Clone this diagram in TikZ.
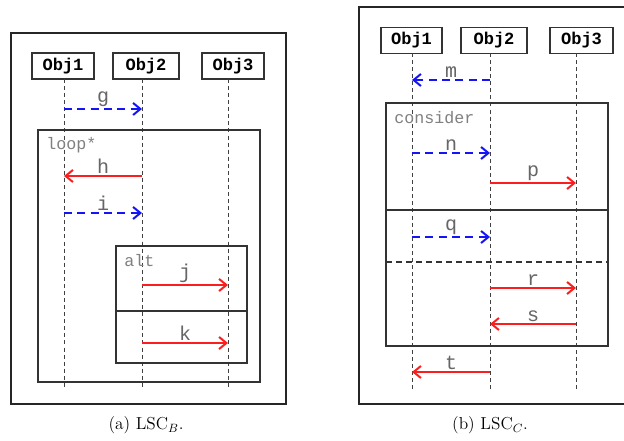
\documentclass[tikz,border=0pt]{standalone}
\usepackage{fontspec}
\setmonofont{Liberation Mono}
\usetikzlibrary{arrows.meta}
\definecolor{msgblue}{RGB}{20,20,245}
\definecolor{msgred}{RGB}{250,30,30}
\tikzset{
  objbox/.style={draw=black!80, line width=0.9pt, minimum height=19.5pt, inner sep=0pt, font=\ttfamily\bfseries\fontsize{12.8}{14}\selectfont},
  lifeline/.style={draw=black!75, line width=0.7pt, dash pattern=on 3pt off 2.3pt},
  frameA/.style={draw=black!85, line width=1.8pt},
  fragbox/.style={draw=black!80, line width=1.1pt},
  fraglbl/.style={text=black!50, font=\ttfamily\fontsize{12.5}{14}\selectfont, anchor=west, inner sep=0pt},
  msglbl/.style={text=black!60, font=\ttfamily\fontsize{15}{17}\selectfont, inner sep=1pt, above},
  tip/.style={-{Straight Barb[length=5.5pt,width=9pt]}},
  asyncmsg/.style={tip, draw=msgblue, line width=1.5pt, dash pattern=on 6pt off 4pt},
  syncmsg/.style={tip, draw=msgred, line width=1.5pt},
  caplbl/.style={font=\fontsize{13}{15}\selectfont, inner sep=0pt}
}
\begin{document}
\begin{tikzpicture}[x=0.75pt,y=-0.75pt]
\useasboundingbox (0,0) rectangle (624,441);
\fill[white] (0,0) rectangle (624,441);
% ===== Panel (a) =====
\draw[frameA] (11,33) rectangle (286,404);
\node[objbox, minimum width=46.5pt] (a1) at (63,66) {Obj1};
\node[objbox, minimum width=49.5pt] (a2) at (146,66) {Obj2};
\node[objbox, minimum width=46.5pt] (a3) at (233,66) {Obj3};
\coordinate (a1top) at (64,79);  \coordinate (a1bot) at (64,389);
\coordinate (a2top) at (142,79); \coordinate (a2bot) at (142,389);
\coordinate (a3top) at (228,79); \coordinate (a3bot) at (228,389);
\draw[lifeline] (a1top) -- (a1bot);
\draw[lifeline] (a2top) -- (a2bot);
\draw[lifeline] (a3top) -- (a3bot);
\draw[fragbox] (38,130) rectangle (260,382);
\node[fraglbl] (looplbl) at (46,145) {loop*};
\draw[fragbox] (116,246) rectangle (247,363);
\draw[fragbox] (116,311) -- (247,311);
\node[fraglbl] (altlbl) at (124,261) {alt};
\coordinate (g1) at (64,109); \coordinate (g2) at (142,109);
\draw[asyncmsg] (g1) -- node[msglbl] {g} (g2);
\coordinate (h1) at (142,176); \coordinate (h2) at (64,176);
\draw[syncmsg] (h1) -- node[msglbl] {h} (h2);
\coordinate (i1) at (64,213); \coordinate (i2) at (142,213);
\draw[asyncmsg] (i1) -- node[msglbl] {i} (i2);
\coordinate (j1) at (142,285); \coordinate (j2) at (228,285);
\draw[syncmsg] (j1) -- node[msglbl] {j} (j2);
\coordinate (k1) at (142,343); \coordinate (k2) at (228,343);
\draw[syncmsg] (k1) -- node[msglbl] {k} (k2);
\node[caplbl] (capa) at (146,425) {(a) LSC$_{B}$.};
% ===== Panel (b) =====
\draw[frameA] (359,7) rectangle (640,404);
\node[objbox, minimum width=45.75pt] (b1) at (411.5,40.5) {Obj1};
\node[objbox, minimum width=49.5pt] (b2) at (494,40.5) {Obj2};
\node[objbox, minimum width=47.25pt] (b3) at (581.5,40.5) {Obj3};
\coordinate (b1top) at (412,53);  \coordinate (b1bot) at (412,392);
\coordinate (b2top) at (490,53);  \coordinate (b2bot) at (490,392);
\coordinate (b3top) at (576,53);  \coordinate (b3bot) at (576,392);
\draw[lifeline] (b1top) -- (b1bot);
\draw[lifeline] (b2top) -- (b2bot);
\draw[lifeline] (b3top) -- (b3bot);
\draw[fragbox] (386,103) rectangle (608,346);
\draw[fragbox] (386,210) -- (608,210);
\draw[fragbox, dash pattern=on 4.5pt off 3pt] (386,262) -- (608,262);
\node[fraglbl] (conslbl) at (394,118) {consider};
\coordinate (m1) at (490,80); \coordinate (m2) at (412,80);
\draw[asyncmsg] (m1) -- node[msglbl] {m} (m2);
\coordinate (n1) at (412,153); \coordinate (n2) at (490,153);
\draw[asyncmsg] (n1) -- node[msglbl] {n} (n2);
\coordinate (p1) at (490,183); \coordinate (p2) at (576,183);
\draw[syncmsg] (p1) -- node[msglbl] {p} (p2);
\coordinate (q1) at (412,237); \coordinate (q2) at (490,237);
\draw[asyncmsg] (q1) -- node[msglbl] {q} (q2);
\coordinate (r1) at (490,288); \coordinate (r2) at (576,288);
\draw[syncmsg] (r1) -- node[msglbl] {r} (r2);
\coordinate (s1) at (576,324); \coordinate (s2) at (490,324);
\draw[syncmsg] (s1) -- node[msglbl] {s} (s2);
\coordinate (t1) at (490,372); \coordinate (t2) at (412,372);
\draw[syncmsg] (t1) -- node[msglbl] {t} (t2);
\node[caplbl] (capb) at (490,425) {(b) LSC$_{C}$.};
\end{tikzpicture}
\end{document}
